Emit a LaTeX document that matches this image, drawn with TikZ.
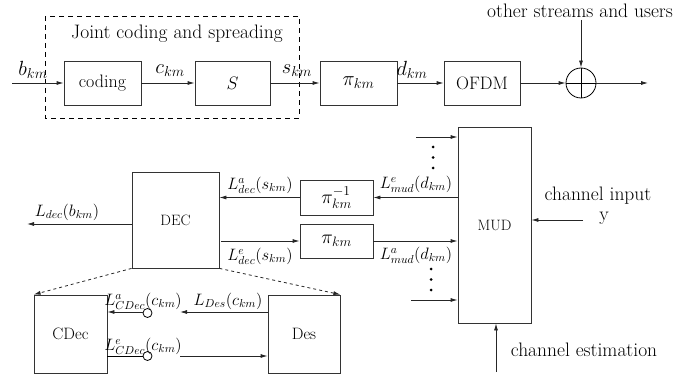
\RequirePackage{fix-cm}
\documentclass[tikz,border=0pt]{standalone}
\usepackage{fontspec}
\usetikzlibrary{arrows.meta,calc}
\newcommand\fA{\fontsize{19.5}{22}\selectfont}
\newcommand\fD{\fontsize{18}{21}\selectfont}
\newcommand\fE{\fontsize{20.5}{23}\selectfont}
\newcommand\fB{\fontsize{15}{17}\selectfont}
\newcommand\fC{\fontsize{16.5}{19}\selectfont}
\tikzset{
  blk/.style={draw=black!80, line width=0.8pt, inner sep=0pt, font=\fD},
  arr/.style={-{Latex[length=7pt,width=4pt]}, line width=0.8pt, draw=black!85},
  lbl/.style={font=\fC, inner sep=0pt},
  tlbl/.style={font=\fE, inner sep=0pt},
  txt/.style={font=\fA, inner sep=0pt},
  dsh/.style={dashed, line width=0.8pt, dash pattern=on 5pt off 4pt},
  sw/.style={draw, circle, minimum size=9pt, inner sep=0pt, line width=0.8pt},
  dotm/.style={fill, circle, minimum size=3pt, inner sep=0pt}
}
\begin{document}
\begin{tikzpicture}[x=1pt,y=-1pt]
\useasboundingbox (0,0) rectangle (684,379);
% ---------- top row ----------
\draw[dsh] (45,16) rectangle (299,118);
\node[txt] (jcs) at (177,34) {Joint coding and spreading};
\coordinate (bin) at (12,83);
\node[blk, minimum width=77pt, minimum height=44pt] (coding) at (102.5,83) {coding};
\node[blk, minimum width=75pt, minimum height=44pt] (S) at (232.5,83) {$S$};
\node[blk, font=\fE, minimum width=77pt, minimum height=44pt] (pi1) at (358.5,83) {$\pi_{km}$};
\node[blk, minimum width=76pt, minimum height=44pt] (ofdm) at (482,83) {OFDM};
\node[draw, circle, minimum size=30pt, inner sep=0pt, line width=0.8pt] (sum) at (581,83) {};
\draw[line width=0.6pt] (sum.north) -- (sum.south) (sum.west) -- (sum.east);
\coordinate (out) at (648,83);
\node[txt] (osu) at (580,11) {other streams and users};
\coordinate (osuend) at (581,20);
\draw[arr] (bin) -- (coding.west);
\draw[arr] (coding.east) -- (S.west);
\draw[arr] (S.east) -- (pi1.west);
\draw[arr] (pi1.east) -- (ofdm.west);
\draw[arr] (ofdm.east) -- (sum.west);
\draw[arr] (sum.east) -- (out);
\draw[arr] (osuend) -- (sum.north);
\node[tlbl] (lb) at (33,70) {$b_{km}$};
\node[tlbl] (lc) at (170,71) {$c_{km}$};
\node[tlbl] (ls) at (297,71) {$s_{km}$};
\node[tlbl] (ld) at (412,70) {$d_{km}$};
% ---------- bottom ----------
\node[blk, font=\fB, minimum width=73pt, minimum height=196pt] (mud) at (494.5,225) {MUD};
\node[blk, font=\fB, minimum width=87pt, minimum height=96pt] (dec) at (175.5,220) {DEC};
\node[blk, font=\fA, minimum width=73pt, minimum height=35pt] (piinv) at (336.5,197.5) {$\pi_{km}^{-1}$};
\node[blk, font=\fA, minimum width=73pt, minimum height=34pt] (pi2) at (336.5,241) {$\pi_{km}$};
\draw[arr] (mud.west |- piinv.east) -- (piinv.east);
\draw[arr] (piinv.west) -- (dec.east |- piinv.west);
\draw[arr] ($(dec.east |- pi2.west)+(2,0)$) -- (pi2.west);
\draw[arr] (pi2.east) -- (mud.west |- pi2.east);
\node[lbl] (lemud) at (416,184) {$L^e_{mud}(d_{km})$};
\node[lbl] (lamud) at (416,255) {$L^a_{mud}(d_{km})$};
\node[lbl] (ladec) at (260,185) {$L^a_{dec}(s_{km})$};
\node[lbl] (ledec) at (260,256) {$L^e_{dec}(s_{km})$};
\coordinate (bout) at (27,224);
\draw[arr] (dec.west |- bout) -- (bout);
\node[lbl] (lbdec) at (67,212) {$L_{dec}(b_{km})$};
% MUD other inputs
\coordinate (in1) at (416,137);
\draw[arr] (in1) -- (mud.west |- in1);
\node[dotm] (d1) at (433,147) {};
\node[dotm] (d2) at (433,157.5) {};
\node[dotm] (d3) at (433,168) {};
\coordinate (in2) at (411,300);
\draw[arr] (in2) -- (mud.west |- in2);
\node[dotm] (d4) at (431,269) {};
\node[dotm] (d5) at (431,279.5) {};
\node[dotm] (d6) at (431,290) {};
% channel input
\node[txt] (chin) at (598,196) {channel input};
\node[txt] (chy) at (604,218) {y};
\coordinate (chinst) at (583,220);
\draw[arr] (chinst) -- (mud.east |- chinst);
% channel estimation
\coordinate (chest) at (496,372);
\draw[arr] (chest) -- (mud.south -| chest);
\node[txt] (chestt) at (584,350) {channel estimation};
% ---------- CDec / Des ----------
\node[blk, font=\fC, minimum width=73pt, minimum height=78pt] (cdec) at (70.5,334) {CDec};
\node[blk, font=\fC, minimum width=72pt, minimum height=78pt] (des) at (304,334) {Des};
\draw[dsh, arr, dashed] (dec.south west) -- (cdec.north west);
\draw[dsh, arr, dashed] (dec.south east) -- (des.north east);
\node[sw] (sw1) at (147.5,313) {};
\node[sw] (sw2) at (147.5,356) {};
\coordinate (up1) at (180,312);
\draw[arr] (des.west |- up1) -- (up1);
\draw[arr] (sw1.west |- up1) -- (cdec.east |- up1);
\draw (cdec.east |- sw2) -- (sw2.west);
\coordinate (lo1) at (180,356);
\draw[arr] (lo1) -- (des.west |- lo1);
\node[lbl] (lacd) at (143,301) {$L^a_{CDec}(c_{km})$};
\node[lbl] (ldes) at (228,301) {$L_{Des}(c_{km})$};
\node[lbl] (lecd) at (143,346) {$L^e_{CDec}(c_{km})$};
\end{tikzpicture}
\end{document}
